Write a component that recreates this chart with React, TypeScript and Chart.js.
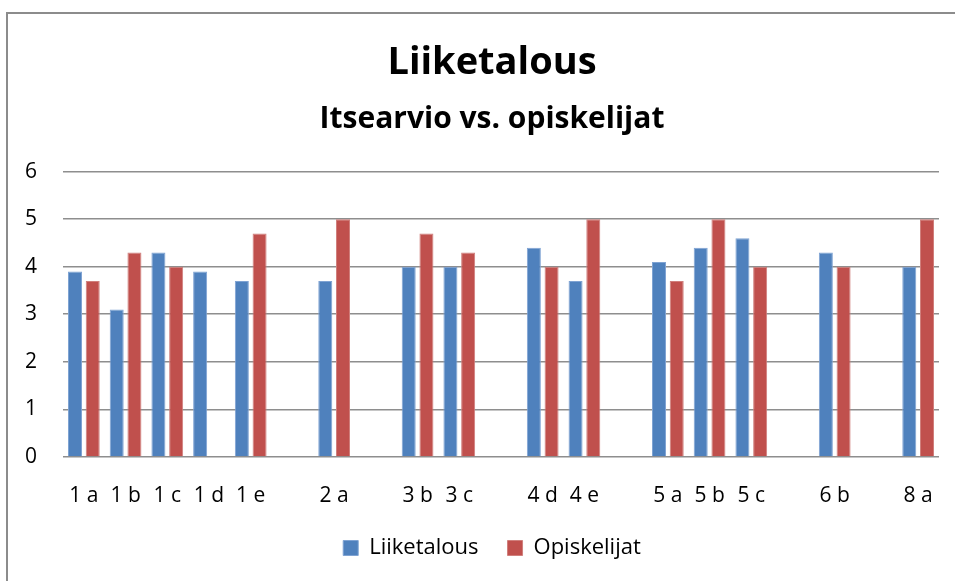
import React, { useEffect, useRef } from "react";
import { Chart, registerables } from "chart.js";

Chart.register(...registerables);

const categories = [
  "1 a", "1 b", "1 c", "1 d", "1 e", "", "2 a", "", "3 b", "3 c", "",
  "4 d", "4 e", "", "5 a", "5 b", "5 c", "", "6 b", "", "8 a",
];
const liiketalous = [
  3.9, 3.1, 4.3, 3.9, 3.7, null, 3.7, null, 4.0, 4.0, null,
  4.4, 3.7, null, 4.1, 4.4, 4.6, null, 4.3, null, 4.0,
];
const opiskelijat = [
  3.7, 4.3, 4.0, null, 4.7, null, 5.0, null, 4.7, 4.3, null,
  4.0, 5.0, null, 3.7, 5.0, 4.0, null, 4.0, null, 5.0,
];
const yTicks = [0, 1, 2, 3, 4, 5, 6];

const FONT = "'Open Sans'";
const CANVAS_W = 962;

export default function App() {
  const ref = useRef<HTMLCanvasElement | null>(null);
  useEffect(() => {
    if (!ref.current) return;
    const chart = new Chart(ref.current, {
      type: "bar",
      data: {
        labels: categories,
        datasets: [
          {
            label: "Liiketalous",
            data: liiketalous,
            backgroundColor: "#4F81BD",
            borderColor: "#7FA3D3",
            borderWidth: 1,
            categoryPercentage: 0.85,
            barPercentage: 0.79,
          },
          {
            label: "Opiskelijat",
            data: opiskelijat,
            backgroundColor: "#C0504D",
            borderColor: "#D07F7C",
            borderWidth: 1,
            categoryPercentage: 0.85,
            barPercentage: 0.79,
          },
        ],
      },
      options: {
        responsive: false,
        animation: false,
        layout: { padding: { left: 22, right: 0, top: 0, bottom: 12 } },
        plugins: {
          title: {
            display: true,
            text: "Liiketalous",
            color: "#000",
            font: { family: FONT, size: 38, weight: "bold" },
            padding: { top: 40, bottom: 16 },
          },
          subtitle: {
            display: true,
            text: "Itsearvio vs. opiskelijat",
            color: "#000",
            font: { family: FONT, size: 30, weight: "bold" },
            padding: { top: 0, bottom: 34 },
          },
          legend: {
            display: true,
            position: "bottom",
            labels: {
              boxWidth: 15,
              boxHeight: 15,
              padding: 29,
              color: "#000",
              font: { family: FONT, size: 22 },
            },
          },
          tooltip: { enabled: false },
        },
        scales: {
          x: {
            grid: { display: false, drawTicks: false },
            border: { display: false },
            ticks: {
              color: "#000",
              font: { family: FONT, size: 21 },
              padding: 26,
              autoSkip: false,
              maxRotation: 0,
            },
            afterFit: (s: any) => {
              s.height = 51;
            },
          },
          y: {
            min: 0,
            max: 6,
            afterBuildTicks: (s: any) => {
              s.ticks = yTicks.map((v) => ({ value: v }));
            },
            grid: { color: "#8e8e8e", lineWidth: 1.6, drawTicks: false },
            border: { display: false },
            ticks: {
              color: "#000",
              font: { family: FONT, size: 21 },
              padding: 26,
            },
            afterFit: (s: any) => {
              s.width = 41;
            },
          },
          yRight: {
            type: "linear",
            position: "right",
            min: 0,
            max: 6,
            grid: { display: false, drawTicks: false },
            border: { display: false },
            ticks: { display: false },
            afterFit: (s: any) => {
              s.width = CANVAS_W - 939;
            },
          },
        },
      },
    });
    return () => chart.destroy();
  }, []);
  return (
    <div style={{ position: "absolute", left: 0, top: 0, width: 955, height: 581, background: "#fff", overflow: "hidden" }}>
      <div
        style={{
          position: "absolute",
          left: 6,
          top: 12,
          width: 1000,
          height: 1000,
          borderLeft: "2px solid #8c8c8c",
          borderTop: "2px solid #8c8c8c",
        }}
      />
      <canvas ref={ref} width={CANVAS_W} height={581} style={{ position: "absolute", left: 0, top: 0 }} />
    </div>
  );
}
